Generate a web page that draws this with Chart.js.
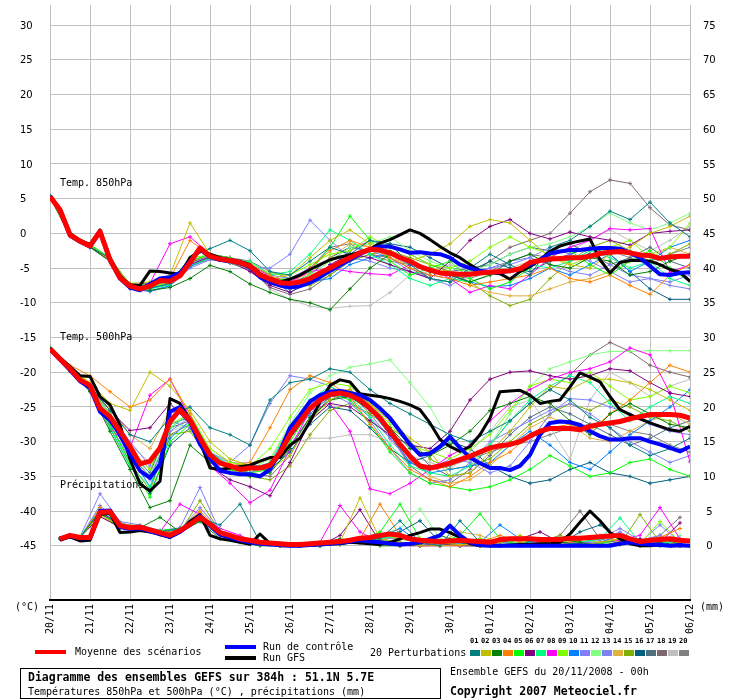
<!DOCTYPE html>
<html>
<head>
<meta charset="utf-8">
<script src="https://cdn.jsdelivr.net/npm/chart.js"></script>
<style>
  body { margin: 0; background: #fff; }
  #wrap { position: relative; width: 740px; height: 700px; font-family: "DejaVu Sans Mono", monospace; font-size: 10px; color: #000; }
  #wrap canvas { position: absolute; left: 0; top: 0; }
  .t { position: absolute; white-space: pre; line-height: 12px; }
  .b { font-weight: bold; font-size: 11.5px; }
  .bar { position: absolute; width: 31px; height: 4px; }
  .sw { position: absolute; top: 650px; width: 10px; height: 6px; }
  .num { position: absolute; top: 637px; font-size: 7px; font-weight: bold; line-height: 8px; }
  #box { position: absolute; left: 20px; top: 668px; width: 419px; height: 29px; border: 1px solid #000; }
</style>
</head>
<body>
<div id="wrap">
  <canvas id="chart" width="740" height="700"></canvas>
  <div class="t" style="left:15px;top:601px">(°C)</div>
  <div class="t" style="left:700px;top:601px">(mm)</div>
  <div class="bar" style="left:35px;top:650px;background:#ff0000"></div>
  <div class="t" style="left:75px;top:646px">Moyenne des scénarios</div>
  <div class="bar" style="left:225px;top:645px;background:#0000ff"></div>
  <div class="bar" style="left:225px;top:656px;background:#000"></div>
  <div class="t" style="left:263px;top:641px">Run de contrôle</div>
  <div class="t" style="left:263px;top:652px">Run GFS</div>
  <div class="t" style="left:370px;top:647px">20 Perturbations</div>
  <div id="swatches"></div>
  <div id="box"></div>
  <div class="t b" style="left:28px;top:671px">Diagramme des ensembles GEFS sur 384h : 51.1N 5.7E</div>
  <div class="t" style="left:28px;top:686px">Températures 850hPa et 500hPa (°C) , précipitations (mm)</div>
  <div class="t" style="left:450px;top:666px">Ensemble GEFS du 20/11/2008 - 00h</div>
  <div class="t b" style="left:450px;top:685px">Copyright 2007 Meteociel.fr</div>
</div>
<script>
// axes
const dayLabels = ["20/11", "21/11", "22/11", "23/11", "24/11", "25/11", "26/11", "27/11", "28/11",
  "29/11", "30/11", "01/12", "02/12", "03/12", "04/12", "05/12", "06/12"];
const leftTicks = [-45, -40, -35, -30, -25, -20, -15, -10, -5, 0, 5, 10, 15, 20, 25, 30];
const rightTicks = [0, 5, 10, 15, 20, 25, 30, 35, 40, 45, 50, 55, 60, 65, 70, 75];

// echeances (heures)
const hours6 = [0, 6, 12, 18, 24, 30, 36, 42, 48, 54, 60, 66, 72, 78, 84, 90, 96, 102, 108, 114, 120,
  126, 132, 138, 144, 150, 156, 162, 168, 174, 180, 186, 192, 198, 204, 210, 216, 222, 228, 234, 240,
  246, 252, 258, 264, 270, 276, 282, 288, 294, 300, 306, 312, 318, 324, 330, 336, 342, 348, 354, 360,
  366, 372, 378, 384];
const hours12 = [0, 12, 24, 36, 48, 60, 72, 84, 96, 108, 120, 132, 144, 156, 168, 180, 192, 204, 216,
  228, 240, 252, 264, 276, 288, 300, 312, 324, 336, 348, 360, 372, 384];
const rainHours12 = [6, 18, 30, 42, 54, 66, 78, 90, 102, 114, 126, 138, 150, 162, 174, 186, 198, 210,
  222, 234, 246, 258, 270, 282, 294, 306, 318, 330, 342, 354, 366, 378];

// moyenne, controle, GFS (pas de 6h)
const mean850 = [5.3, 3.4, -0.2, -1.1, -1.8, 0.3, -3.8, -6.4, -7.6, -8.0, -7.6, -6.8, -6.9, -6.1, -4.2,
  -2.1, -3.3, -3.7, -3.9, -4.2, -4.7, -6.0, -6.6, -7.1, -7.2, -7.0, -6.5, -5.7, -5.0, -4.2, -3.5, -2.8,
  -2.3, -2.4, -2.8, -3.5, -4.0, -4.8, -5.3, -5.7, -5.8, -5.9, -5.9, -5.7, -5.6, -5.5, -5.4, -5.1, -4.2,
  -3.9, -3.7, -3.6, -3.5, -3.5, -3.3, -2.9, -2.7, -2.6, -2.8, -3.1, -3.2, -3.6, -3.4, -3.3, -3.3];
const ctrl850 = [5.4, 3.3, -0.3, -1.2, -1.9, 0.2, -3.9, -6.5, -7.8, -8.2, -7.3, -6.5, -6.3, -5.7, -4.0,
  -2.3, -3.4, -3.8, -4.0, -4.3, -4.9, -6.3, -7.0, -7.5, -7.8, -7.6, -7.1, -6.3, -5.4, -4.6, -3.8, -3.0,
  -2.3, -1.9, -1.9, -2.3, -2.8, -2.7, -2.9, -3.0, -3.5, -4.5, -5.0, -5.4, -5.6, -5.6, -5.4, -5.1, -4.5,
  -3.8, -2.9, -2.6, -2.4, -2.4, -2.2, -2.1, -2.1, -2.2, -2.8, -3.5, -4.7, -5.9, -6.0, -5.7, -5.6];
const gfs850 = [5.3, 3.5, 0.0, -1.0, -1.6, 0.5, -3.5, -6.2, -7.4, -7.5, -5.4, -5.5, -5.7, -5.9, -3.5,
  -2.5, -3.0, -3.5, -3.8, -4.0, -4.5, -5.8, -6.5, -7.0, -6.6, -6.0, -5.2, -4.5, -3.8, -3.4, -3.1, -2.7,
  -2.3, -1.4, -0.9, -0.2, 0.5, 0.0, -0.9, -1.9, -2.8, -3.5, -4.5, -5.4, -5.6, -5.8, -6.6, -5.5, -4.8,
  -3.8, -2.6, -1.8, -1.4, -1.1, -0.8, -3.8, -5.7, -4.2, -3.9, -3.9, -4.0, -4.5, -5.2, -5.6, -6.9];

const mean500 = [-16.6, -18.1, -19.5, -21.1, -21.9, -25.2, -26.4, -28.5, -30.7, -33.2, -32.8, -30.9,
  -27.1, -25.4, -26.9, -29.5, -31.9, -33.1, -33.5, -34.0, -33.8, -33.8, -33.4, -31.6, -29.0, -27.1,
  -25.2, -24.0, -23.2, -23.0, -23.3, -24.0, -25.2, -26.6, -28.5, -30.4, -32.1, -33.5, -33.8, -33.5,
  -33.1, -32.6, -32.1, -31.5, -30.9, -30.6, -30.4, -30.0, -29.2, -28.5, -28.1, -28.1, -28.1, -28.3,
  -27.8, -27.5, -27.3, -27.1, -26.7, -26.4, -26.1, -26.1, -26.1, -26.2, -26.6];
const ctrl500 = [-16.7, -18.2, -19.7, -21.3, -22.2, -25.7, -26.9, -29.0, -31.8, -34.2, -35.2, -33.3,
  -25.7, -25.0, -27.1, -30.4, -32.4, -34.2, -34.5, -34.7, -34.7, -35.0, -34.0, -31.4, -28.0, -26.2,
  -24.2, -23.3, -22.8, -22.7, -23.0, -23.3, -24.0, -25.2, -26.6, -28.5, -30.4, -31.9, -31.7, -30.7,
  -29.3, -30.9, -32.3, -33.1, -33.8, -33.8, -34.1, -33.5, -31.9, -29.0, -27.3, -27.1, -27.2, -27.6,
  -28.5, -29.2, -29.7, -29.7, -29.5, -29.5, -30.0, -30.4, -30.9, -31.4, -30.7];
const gfs500 = [-16.5, -17.9, -19.2, -20.5, -20.6, -23.5, -24.7, -27.6, -32.5, -36.1, -37.1, -35.7,
  -23.8, -24.5, -26.9, -30.0, -33.8, -34.0, -33.8, -33.6, -33.4, -32.8, -32.3, -32.3, -30.5, -29.5,
  -27.1, -24.3, -21.9, -21.1, -21.4, -23.1, -23.3, -23.5, -23.8, -24.2, -24.7, -25.4, -27.3, -29.7,
  -30.7, -31.4, -30.7, -29.0, -26.6, -22.8, -22.7, -22.6, -23.3, -24.5, -24.2, -24.0, -22.1, -20.1,
  -20.7, -21.4, -23.5, -25.4, -26.1, -26.7, -27.3, -27.8, -28.3, -28.5, -27.8];

// precipitations (mm / 6h, a partir de +6h)
const meanRain = [1.0, 1.5, 1.2, 1.2, 4.8, 4.9, 2.9, 2.6, 2.7, 2.3, 1.9, 1.5, 2.2, 3.1, 4.1, 3.1, 1.9,
  1.5, 1.0, 0.8, 0.5, 0.4, 0.3, 0.2, 0.2, 0.3, 0.4, 0.5, 0.6, 0.8, 1.1, 1.2, 1.5, 1.7, 1.5, 1.0, 0.8,
  0.7, 0.6, 0.7, 0.8, 0.7, 0.6, 0.5, 0.9, 1.0, 1.0, 1.0, 0.9, 0.9, 0.9, 1.1, 1.1, 1.2, 1.3, 1.4, 1.5,
  1.0, 0.6, 0.8, 0.9, 1.0, 0.8, 0.7];
const ctrlRain = [1.0, 1.4, 1.1, 1.1, 5.0, 5.1, 2.7, 2.4, 2.5, 2.1, 1.7, 1.3, 2.0, 3.0, 4.3, 2.9, 1.6,
  1.2, 0.8, 0.5, 0.3, 0.2, 0.1, 0.0, 0.0, 0.1, 0.2, 0.3, 0.4, 0.6, 0.8, 0.6, 0.5, 0.3, 0.2, 0.3, 0.5,
  1.0, 1.5, 2.9, 1.5, 0.5, 0.1, 0.0, 0.0, 0.0, 0.0, 0.0, 0.0, 0.0, 0.0, 0.0, 0.0, 0.0, 0.0, 0.0, 0.3,
  0.5, 0.3, 0.2, 0.1, 0.0, 0.1, 0.0];
const gfsRain = [0.8, 1.3, 0.7, 0.8, 4.5, 4.7, 1.9, 2.0, 2.2, 2.0, 1.6, 1.2, 2.0, 3.5, 4.5, 1.5, 1.0,
  0.8, 0.5, 0.2, 1.7, 0.3, 0.0, 0.0, 0.0, 0.1, 0.2, 0.3, 0.3, 0.5, 0.4, 0.3, 0.2, 0.5, 1.0, 1.5, 1.9,
  2.4, 2.4, 1.9, 1.2, 0.3, 0.0, 0.0, 0.0, 0.1, 0.2, 0.2, 0.3, 0.3, 0.5, 1.7, 3.4, 5.0, 3.6, 1.9, 1.0,
  0.3, 0.0, 0.0, 0.1, 0.0, 0.0, 0.0];

// 20 perturbations
const pertColors = ["#008080", "#c0c000", "#008000", "#ff8000", "#00ff00", "#800080", "#00ff80",
  "#ff00ff", "#80ff00", "#0080ff", "#8080ff", "#80ff80", "#8080f0", "#e0b040", "#80b000", "#006080",
  "#507080", "#806870", "#c0c0c0", "#808080"];

const pert850 = [
  [5.4, -0.1, -1.9, -3.6, -7.8, -7.9, -7.2, -3.5, -2.2, -1.0, -2.5, -5.5, -6.0, -4.0, -2.0, -3.0, -1.0, -1.5, -4.5, -6.5, -7.0, -5.0, -3.0, -4.5, -6.0, -2.0, -1.0, 1.0, 3.2, 2.0, 4.5, 1.5, -0.5],
  [5.3, -0.3, -1.7, -3.9, -7.2, -7.0, -6.0, 1.5, -3.0, -4.2, -5.0, -6.5, -6.0, -3.5, -1.0, 0.5, -1.5, -3.0, -4.0, -3.0, -1.5, 1.0, 2.0, 1.5, -1.0, -3.5, -4.5, -5.0, -3.0, -2.0, 0.0, 1.0, 2.5],
  [5.2, -0.4, -2.0, -4.0, -7.9, -8.2, -7.8, -6.5, -4.6, -5.5, -7.3, -8.5, -9.5, -10.0, -11.0, -8.0, -5.0, -3.0, -4.0, -5.5, -6.0, -7.0, -6.0, -4.0, -3.0, -4.5, -5.0, -3.5, -4.0, -6.0, -5.5, -4.0, -3.0],
  [5.3, -0.2, -1.8, -3.7, -7.5, -7.8, -6.5, -1.0, -3.2, -3.8, -4.5, -6.0, -7.5, -5.0, -2.5, -1.0, -2.0, -3.5, -5.0, -6.0, -6.5, -7.5, -7.0, -6.5, -6.0, -5.0, -6.5, -7.0, -6.0, -7.5, -8.8, -6.0, -4.5],
  [5.4, 0.0, -1.6, -3.5, -7.4, -7.3, -7.0, -4.0, -3.0, -3.5, -5.0, -6.8, -6.5, -5.5, -2.0, 2.5, -1.0, -4.0, -6.0, -5.0, -4.0, -6.5, -8.0, -7.0, -5.0, -3.0, -2.5, -4.5, -6.0, -4.0, -2.5, -5.0, -7.0],
  [5.3, -0.3, -1.9, -3.9, -7.7, -7.5, -6.8, -4.5, -3.4, -4.0, -5.5, -7.5, -8.5, -7.0, -4.5, -3.0, -3.5, -4.5, -5.5, -6.5, -4.0, -1.0, 1.0, 2.0, 0.0, -0.8, 0.2, -0.5, -1.0, -1.7, 0.0, 0.3, 0.5],
  [5.2, -0.1, -1.7, -3.6, -7.6, -8.0, -7.4, -4.6, -3.6, -4.2, -4.0, -6.0, -5.5, -3.0, 0.5, -1.0, -3.0, -4.5, -6.5, -7.5, -6.5, -7.0, -6.0, -5.5, -4.5, -5.0, -4.0, -2.5, -3.5, -5.0, -4.0, -6.5, -7.5],
  [5.4, -0.2, -1.8, -3.8, -7.4, -7.2, -1.5, -0.5, -3.0, -3.5, -4.5, -6.2, -7.0, -5.5, -5.0, -5.5, -5.8, -6.0, -4.5, -5.0, -6.5, -8.5, -7.5, -8.0, -6.0, -3.5, -2.0, -1.0, 0.7, 0.5, 0.7, -5.6, -4.5],
  [5.3, -0.3, -1.9, -3.8, -7.7, -7.6, -7.1, -3.5, -3.1, -3.7, -4.2, -5.8, -6.0, -4.5, -3.0, -2.5, -0.5, -2.0, -3.0, -4.5, -5.0, -4.0, -2.0, -0.5, -2.0, -3.0, -4.5, -3.5, -2.0, -1.0, -3.5, -2.0, 1.5],
  [5.3, -0.2, -1.8, -3.9, -7.8, -8.3, -7.5, -4.8, -3.5, -4.0, -4.8, -6.5, -8.5, -7.0, -6.5, -4.5, -3.5, -3.0, -4.5, -5.5, -6.0, -7.0, -7.7, -7.5, -6.5, -5.0, -6.0, -4.5, -3.0, -5.5, -4.0, -2.0, -1.0],
  [5.4, -0.1, -1.7, -3.7, -7.3, -7.5, -7.0, -4.5, -3.2, -3.6, -4.8, -5.0, -3.0, 1.9, -1.0, -3.5, -4.0, -5.0, -5.5, -6.5, -7.5, -6.0, -5.0, -4.5, -3.5, -2.0, -3.0, -4.0, -5.5, -7.0, -6.5, -7.0, -6.0],
  [5.3, -0.2, -1.8, -3.8, -7.6, -7.7, -7.2, -4.4, -3.3, -3.9, -5.0, -6.8, -7.4, -6.0, -4.0, -2.0, -1.5, -0.5, -2.5, -4.0, -5.0, -5.5, -4.5, -3.0, -2.0, -1.5, -0.5, 1.0, 2.9, 1.5, 0.5, 1.5, 2.9],
  [5.2, -0.3, -2.0, -4.0, -8.0, -8.4, -7.6, -5.0, -3.8, -4.2, -4.5, -6.0, -6.5, -5.0, -4.0, -2.0, -2.5, -3.5, -5.5, -6.0, -6.5, -5.5, -5.0, -4.0, -3.5, -4.5, -5.5, -6.0, -4.5, -6.0, -6.5, -7.5, -8.0],
  [5.3, -0.2, -1.9, -3.7, -7.5, -7.4, -6.8, -4.0, -3.2, -3.6, -4.4, -6.2, -6.8, -5.8, -3.5, -1.5, -2.0, -3.5, -4.5, -5.0, -5.5, -7.5, -8.5, -9.0, -9.0, -8.0, -7.0, -6.5, -5.5, -4.0, -3.0, -2.0, -3.0],
  [5.4, -0.1, -1.8, -3.8, -7.6, -7.5, -6.9, -4.3, -3.4, -4.0, -4.9, -7.0, -7.8, -7.5, -6.0, -4.0, -3.0, -2.5, -3.5, -4.5, -5.5, -7.0, -9.0, -10.4, -9.5, -6.5, -4.0, -2.0, -1.0, -2.5, -4.0, -3.0, -1.5],
  [5.3, -0.3, -1.9, -3.9, -7.7, -7.9, -7.3, -4.2, -3.3, -3.9, -4.6, -6.6, -7.2, -6.0, -3.5, -2.0, -2.5, -1.5, -2.0, -3.5, -5.0, -5.5, -4.0, -5.0, -5.5, -4.0, -3.0, -2.0, -3.0, -5.5, -8.0, -9.5, -9.5],
  [5.2, -0.2, -1.8, -3.9, -7.9, -7.8, -7.1, -4.7, -3.7, -4.3, -5.3, -7.3, -8.0, -7.0, -5.0, -2.5, -1.0, -2.0, -3.0, -4.5, -5.5, -5.0, -4.5, -3.0, -2.0, -2.5, -1.5, -3.0, -4.5, -3.5, -2.0, -4.0, -5.0],
  [5.3, -0.3, -1.7, -3.6, -7.5, -7.2, -7.0, -3.8, -3.5, -3.8, -5.2, -7.8, -8.8, -8.0, -6.0, -4.0, -3.0, -3.5, -5.0, -6.5, -7.0, -6.0, -4.0, -2.0, -1.0, 0.0, 2.9, 6.0, 7.7, 7.2, 3.7, 1.2, 0.5],
  [5.4, -0.2, -1.9, -3.8, -7.6, -7.6, -6.7, -4.1, -3.0, -3.8, -5.0, -8.0, -9.5, -10.5, -10.8, -10.5, -10.4, -8.5, -6.0, -5.5, -4.5, -5.5, -6.0, -5.0, -4.0, -3.0, -2.5, -1.0, 0.5, -1.0, -2.5, -1.0, 1.0],
  [5.3, -0.2, -1.8, -3.7, -7.4, -7.3, -6.6, -4.0, -3.0, -3.5, -4.0, -5.5, -6.5, -5.0, -2.0, -1.5, -3.0, -4.0, -4.5, -5.0, -6.0, -6.5, -5.5, -4.0, -3.0, -3.5, -4.0, -3.0, -2.5, -3.5, -4.5, -3.0, -2.0]
];

const pert500 = [
  [-16.5, -19.4, -22.0, -25.5, -29.0, -30.0, -26.5, -25.0, -28.0, -29.0, -30.5, -24.0, -21.5, -21.0, -19.5, -20.0, -22.5, -24.5, -26.0, -27.5, -29.0, -30.0, -28.5, -27.0, -24.5, -22.5, -24.0, -26.5, -28.0, -30.5, -32.0, -31.0, -29.5],
  [-16.7, -19.3, -21.5, -24.5, -25.5, -20.0, -22.0, -25.5, -30.0, -32.5, -33.5, -34.0, -32.0, -27.0, -24.0, -22.5, -24.5, -27.0, -29.5, -31.5, -35.0, -34.5, -31.5, -28.5, -25.0, -22.0, -22.5, -21.0, -21.0, -21.5, -22.5, -24.0, -25.5],
  [-16.6, -19.8, -22.8, -28.5, -34.0, -39.5, -38.5, -30.5, -33.0, -34.5, -35.0, -34.5, -31.0, -26.5, -24.0, -23.5, -25.5, -28.0, -31.0, -32.0, -30.5, -28.5, -25.5, -24.5, -23.5, -24.5, -27.0, -29.0, -26.0, -24.5, -26.0, -27.5, -28.0],
  [-16.5, -19.0, -20.5, -22.8, -25.0, -24.0, -21.0, -26.0, -32.0, -33.5, -33.0, -28.0, -22.5, -20.5, -21.5, -23.5, -27.5, -31.0, -34.0, -35.5, -36.5, -35.0, -33.0, -31.5, -29.0, -28.0, -27.5, -28.5, -26.0, -24.0, -21.5, -19.0, -20.0],
  [-16.6, -19.7, -22.4, -27.5, -33.0, -38.0, -30.0, -27.5, -32.5, -34.0, -34.5, -34.0, -30.0, -25.5, -23.0, -24.0, -27.5, -31.5, -34.5, -36.0, -36.5, -37.0, -36.5, -35.5, -34.0, -32.0, -33.5, -35.0, -34.5, -33.0, -32.5, -34.0, -35.0],
  [-16.7, -19.6, -22.1, -25.5, -28.4, -28.0, -24.5, -27.5, -33.5, -35.5, -36.5, -37.8, -33.0, -27.0, -24.5, -25.0, -27.0, -29.0, -30.5, -31.0, -28.5, -24.0, -21.0, -20.0, -19.8, -20.5, -21.0, -20.5, -19.5, -19.8, -21.5, -23.0, -23.5],
  [-16.5, -19.5, -22.3, -28.0, -33.5, -36.5, -28.0, -26.0, -31.5, -33.5, -34.0, -33.0, -28.0, -24.0, -22.0, -23.5, -26.5, -30.5, -33.5, -34.5, -35.0, -33.5, -30.5, -27.0, -24.0, -22.0, -20.5, -21.5, -24.5, -27.0, -25.0, -23.5, -24.5],
  [-16.6, -19.8, -22.5, -28.0, -30.9, -23.3, -21.0, -26.5, -33.5, -36.0, -38.8, -37.0, -31.0, -25.5, -24.5, -28.5, -36.8, -37.5, -36.0, -34.0, -32.0, -30.5, -27.0, -24.5, -22.5, -21.0, -20.0, -19.5, -18.5, -16.5, -17.5, -23.0, -32.9],
  [-16.5, -19.4, -21.8, -26.0, -31.0, -34.0, -27.5, -26.0, -31.0, -33.0, -33.5, -31.0, -26.5, -22.5, -21.5, -22.0, -24.5, -27.5, -30.5, -31.5, -32.5, -31.0, -29.0, -25.5, -22.0, -21.0, -21.5, -20.0, -22.0, -24.0, -23.5, -22.0, -23.0],
  [-16.6, -19.6, -22.2, -27.0, -32.0, -36.5, -29.5, -27.0, -32.0, -33.5, -33.5, -33.5, -29.5, -26.0, -23.5, -23.5, -25.5, -29.0, -33.0, -34.5, -34.0, -33.5, -33.0, -30.5, -28.5, -30.5, -33.0, -34.0, -31.5, -29.0, -27.0, -25.0, -22.5],
  [-16.7, -19.7, -22.6, -27.5, -32.5, -35.5, -28.5, -26.5, -31.5, -33.0, -30.5, -24.5, -20.5, -21.0, -22.0, -24.0, -26.5, -29.5, -33.0, -34.0, -32.5, -33.0, -34.5, -33.5, -30.0, -26.0, -23.8, -24.0, -25.0, -26.0, -27.5, -28.5, -29.0],
  [-16.5, -19.5, -22.0, -26.5, -31.5, -35.0, -28.0, -27.5, -32.5, -34.0, -34.0, -32.5, -27.5, -23.0, -20.5, -19.3, -18.8, -18.2, -21.5, -25.0, -30.0, -33.0, -30.5, -26.0, -22.0, -19.5, -18.5, -17.5, -17.0, -17.0, -16.9, -16.9, -16.9],
  [-16.6, -19.6, -22.0, -26.0, -30.0, -33.5, -27.0, -28.0, -33.0, -34.5, -34.5, -33.0, -28.5, -24.5, -23.0, -24.5, -27.0, -31.0, -34.5, -36.0, -35.5, -33.0, -30.0, -28.5, -27.0, -25.5, -24.5, -26.0, -28.0, -30.0, -31.5, -33.0, -32.0],
  [-16.5, -19.3, -21.7, -25.0, -29.0, -31.0, -25.5, -26.5, -31.0, -33.0, -33.5, -32.5, -28.0, -24.0, -22.5, -22.5, -25.0, -28.5, -32.5, -35.0, -36.0, -35.5, -33.5, -30.5, -28.0, -26.5, -27.5, -29.5, -30.0, -28.5, -27.0, -26.0, -27.5],
  [-16.6, -19.5, -22.2, -27.5, -33.0, -37.0, -29.0, -28.5, -32.5, -34.0, -35.0, -35.5, -33.5, -29.0, -25.5, -24.5, -26.0, -28.0, -30.0, -32.5, -34.0, -33.5, -32.5, -30.0, -27.5, -26.0, -24.5, -25.5, -24.0, -25.0, -26.5, -27.0, -28.5],
  [-16.7, -19.8, -22.7, -28.0, -33.5, -37.5, -30.5, -28.0, -32.0, -33.5, -34.0, -34.0, -31.5, -27.5, -25.0, -25.5, -28.0, -31.0, -33.0, -32.0, -30.0, -31.0, -33.5, -35.0, -36.0, -35.5, -34.0, -33.0, -34.5, -35.0, -36.0, -35.5, -35.0],
  [-16.5, -19.6, -22.3, -27.0, -31.5, -34.5, -27.5, -26.5, -31.5, -33.5, -34.0, -34.0, -30.5, -26.5, -24.0, -23.0, -24.5, -27.0, -30.5, -33.5, -35.0, -34.5, -32.0, -29.0, -26.5, -25.0, -26.0, -27.5, -29.0, -30.5, -29.5, -28.0, -27.0],
  [-16.6, -19.4, -21.9, -26.5, -31.0, -34.0, -28.0, -27.0, -32.0, -33.5, -34.5, -35.0, -32.0, -27.0, -23.5, -22.5, -25.0, -29.0, -33.5, -35.5, -36.0, -34.0, -30.5, -27.0, -24.5, -22.5, -20.4, -17.5, -15.7, -17.0, -19.0, -20.0, -20.7],
  [-16.5, -19.5, -22.0, -26.0, -30.5, -33.0, -28.5, -27.5, -32.0, -33.0, -33.0, -32.5, -30.5, -29.5, -29.5, -29.0, -29.0, -30.0, -32.0, -33.0, -34.0, -31.5, -28.5, -25.0, -24.0, -28.0, -32.5, -24.0, -20.0, -21.5, -23.5, -22.0, -21.0],
  [-16.6, -19.7, -22.4, -27.0, -32.0, -35.0, -29.0, -27.5, -32.5, -34.0, -34.5, -33.5, -29.0, -25.0, -22.5, -23.0, -26.0, -29.5, -33.0, -34.0, -33.5, -32.5, -31.5, -30.5, -30.0, -29.0, -28.0, -27.5, -27.5, -28.5, -29.0, -30.5, -31.5]
];

const pertRain = [
  [1.0, 1.2, 5.0, 3.0, 2.5, 2.0, 2.5, 4.0, 3.0, 6.0, 0.5, 0.2, 0.0, 0.0, 0.3, 0.8, 1.0, 3.6, 0.5, 0.0, 3.6, 0.5, 0.0, 0.2, 1.0, 0.5, 0.2, 0.0, 0.5, 0.0, 0.3, 0.0],
  [1.0, 1.3, 4.5, 2.8, 2.4, 2.0, 2.0, 4.5, 1.5, 0.5, 0.2, 0.0, 0.0, 0.0, 0.5, 6.9, 1.0, 0.5, 0.0, 0.0, 0.2, 0.0, 0.5, 1.5, 0.5, 0.2, 0.0, 0.5, 1.0, 0.2, 0.0, 0.5],
  [1.1, 1.2, 4.8, 2.5, 2.6, 4.1, 2.0, 3.5, 1.0, 0.5, 0.0, 0.0, 0.0, 0.3, 1.0, 0.5, 0.0, 0.0, 0.2, 1.5, 0.5, 0.0, 0.0, 0.0, 0.3, 1.0, 0.5, 0.0, 0.2, 0.5, 1.0, 0.3],
  [1.0, 1.1, 5.5, 3.2, 2.8, 1.5, 2.4, 5.0, 2.0, 0.8, 0.3, 0.0, 0.0, 0.0, 0.2, 1.0, 6.0, 1.5, 0.5, 0.0, 0.0, 0.5, 1.5, 0.5, 0.0, 0.2, 0.8, 1.5, 0.5, 0.3, 1.2, 2.5],
  [1.0, 1.2, 4.6, 2.9, 2.7, 2.2, 2.5, 3.8, 1.5, 1.0, 0.5, 0.0, 0.0, 0.5, 0.5, 0.8, 2.0, 6.0, 1.0, 0.5, 1.5, 4.6, 1.0, 0.0, 0.0, 0.5, 0.0, 0.3, 1.0, 0.0, 0.0, 0.5],
  [1.0, 1.2, 4.2, 2.7, 2.6, 1.8, 2.3, 4.2, 1.8, 0.7, 0.2, 0.0, 0.0, 0.0, 1.5, 5.2, 0.5, 0.0, 0.0, 0.3, 0.0, 0.0, 0.5, 1.0, 2.0, 0.5, 0.3, 0.0, 0.5, 1.0, 0.5, 3.3],
  [1.0, 1.3, 5.2, 3.1, 2.9, 2.1, 2.1, 4.4, 2.2, 1.2, 0.5, 0.3, 0.0, 0.0, 0.2, 0.5, 1.0, 1.5, 0.8, 0.5, 0.5, 0.3, 0.0, 0.5, 0.3, 0.0, 0.5, 1.0, 4.0, 0.5, 0.3, 0.8],
  [1.1, 1.2, 4.9, 2.8, 2.5, 2.0, 6.0, 4.5, 2.5, 1.5, 0.2, 0.0, 0.0, 0.5, 5.8, 2.0, 0.5, 0.3, 0.0, 0.0, 0.2, 0.0, 0.0, 0.3, 0.5, 0.2, 0.0, 0.5, 0.8, 1.5, 5.5, 1.0],
  [1.0, 1.2, 4.7, 3.0, 2.7, 1.9, 2.2, 4.0, 1.8, 1.0, 0.3, 0.0, 0.3, 0.0, 0.2, 0.5, 1.5, 1.0, 0.5, 0.3, 0.5, 1.0, 0.5, 0.8, 0.0, 0.5, 1.0, 0.5, 0.2, 0.3, 3.5, 0.5],
  [1.0, 1.1, 5.3, 3.3, 2.6, 1.8, 2.0, 3.6, 1.5, 0.8, 0.5, 0.0, 0.0, 0.0, 0.3, 0.5, 1.2, 2.5, 0.5, 0.0, 0.3, 0.5, 3.0, 1.0, 0.2, 0.0, 0.0, 0.5, 1.5, 0.3, 0.0, 0.5],
  [1.1, 1.3, 7.5, 3.5, 3.0, 2.2, 2.6, 8.4, 2.0, 1.0, 0.3, 0.0, 0.0, 0.2, 0.5, 0.8, 1.0, 0.5, 0.3, 0.0, 0.0, 0.2, 0.5, 0.3, 0.0, 0.5, 0.2, 0.8, 2.0, 0.5, 3.0, 0.5],
  [1.0, 1.2, 4.8, 2.9, 2.8, 2.0, 2.2, 4.0, 1.9, 0.8, 0.3, 0.0, 0.0, 0.0, 0.5, 1.0, 1.5, 2.5, 5.3, 1.0, 0.5, 0.0, 0.3, 0.5, 1.0, 0.3, 0.0, 0.5, 1.0, 0.5, 0.0, 1.5],
  [1.0, 1.2, 5.8, 3.2, 2.8, 2.0, 2.3, 5.5, 2.1, 1.0, 0.4, 0.0, 0.0, 0.0, 0.3, 0.5, 1.2, 1.0, 0.5, 0.3, 0.0, 0.0, 0.2, 1.0, 0.5, 0.0, 0.3, 1.0, 2.5, 0.8, 1.5, 0.3],
  [1.0, 1.2, 4.3, 2.6, 2.4, 1.8, 2.1, 4.8, 1.7, 0.9, 0.3, 0.0, 0.0, 0.0, 0.2, 0.6, 1.0, 1.2, 1.0, 0.5, 2.0, 1.5, 0.5, 0.0, 0.3, 0.8, 0.5, 0.0, 0.3, 0.5, 0.2, 0.0],
  [1.0, 1.2, 4.7, 2.9, 2.5, 1.9, 2.0, 6.5, 2.0, 1.0, 0.2, 0.0, 0.0, 0.3, 0.5, 1.0, 0.8, 0.5, 0.3, 0.0, 0.5, 0.5, 1.0, 0.3, 0.5, 1.5, 0.5, 0.0, 0.2, 4.5, 0.5, 1.0],
  [1.0, 1.2, 5.0, 3.0, 2.6, 2.0, 2.3, 4.2, 2.0, 1.1, 0.5, 0.0, 0.0, 0.0, 0.3, 0.8, 1.3, 2.0, 3.6, 0.5, 0.0, 0.3, 0.5, 1.0, 0.0, 0.2, 2.0, 3.0, 1.0, 0.0, 0.5, 0.0],
  [1.0, 1.3, 4.9, 2.9, 2.8, 2.1, 2.2, 4.1, 1.8, 0.9, 0.4, 0.2, 0.0, 0.0, 0.4, 0.7, 1.1, 1.3, 0.7, 0.3, 0.5, 0.5, 0.0, 0.3, 0.5, 0.8, 0.5, 0.3, 0.8, 0.3, 0.5, 0.3],
  [1.0, 1.2, 5.0, 2.8, 2.6, 2.0, 2.4, 4.3, 2.0, 1.0, 0.3, 0.0, 0.0, 0.2, 0.5, 1.0, 0.5, 0.3, 0.0, 0.0, 0.5, 1.0, 0.5, 0.2, 0.5, 1.5, 5.0, 1.0, 0.3, 0.5, 1.5, 4.1],
  [1.0, 1.2, 4.6, 2.7, 2.5, 1.9, 2.1, 3.9, 1.6, 0.9, 0.2, 0.0, 0.0, 0.0, 0.2, 0.5, 0.8, 0.5, 0.2, 0.0, 0.0, 0.0, 0.2, 0.5, 1.0, 0.5, 0.3, 0.5, 1.5, 0.5, 0.2, 0.0],
  [1.0, 1.2, 4.9, 2.9, 2.7, 2.0, 2.2, 4.1, 1.9, 1.0, 0.4, 0.0, 0.0, 0.0, 0.4, 0.8, 1.2, 1.0, 0.5, 0.3, 0.2, 0.3, 0.5, 0.5, 0.8, 0.5, 0.5, 1.0, 1.5, 0.3, 1.0, 0.5]
];

// legende des perturbations
var sw = document.getElementById("swatches");
pertColors.forEach(function (c, i) {
  var x = 470 + i * 11;
  var n = String(i + 1).padStart(2, "0");
  sw.insertAdjacentHTML("beforeend",
    '<div class="num" style="left:' + x + 'px">' + n + '</div>' +
    '<div class="sw" style="left:' + x + 'px;background:' + c + '"></div>');
});

function pts(hours, vals) {
  return vals.map(function (v, i) { return { x: hours[i], y: v }; });
}

function mainLine(vals, hours, color, width, order, axis) {
  return {
    data: pts(hours, vals), borderColor: color, backgroundColor: color, borderWidth: width,
    pointRadius: 0, order: order, yAxisID: axis, borderJoinStyle: "round"
  };
}

var datasets = [
  mainLine(mean850, hours6, "#ff0000", 5, 0, "y"),
  mainLine(mean500, hours6, "#ff0000", 5, 0, "y"),
  mainLine(meanRain, hours6.slice(1), "#ff0000", 5, 0, "y2"),
  mainLine(ctrl850, hours6, "#0000ff", 4, 1, "y"),
  mainLine(ctrl500, hours6, "#0000ff", 4, 1, "y"),
  mainLine(ctrlRain, hours6.slice(1), "#0000ff", 4, 1, "y2"),
  mainLine(gfs850, hours6, "#000000", 3, 2, "y"),
  mainLine(gfs500, hours6, "#000000", 3, 2, "y"),
  mainLine(gfsRain, hours6.slice(1), "#000000", 3, 2, "y2")
];

function pertLine(vals, hours, color, axis) {
  return {
    data: pts(hours, vals), borderColor: color, backgroundColor: color, borderWidth: 1,
    pointRadius: 2, pointStyle: "cross", pointBorderWidth: 1, pointBorderColor: color,
    order: 5, yAxisID: axis
  };
}

pertColors.forEach(function (c, i) {
  datasets.push(pertLine(pert850[i], hours12, c, "y"));
  datasets.push(pertLine(pert500[i], hours12, c, "y"));
  datasets.push(pertLine(pertRain[i], rainHours12, c, "y2"));
});

// titres des panneaux, sous les courbes
const panelTitles = {
  id: "panelTitles",
  beforeDatasetsDraw: function (chart) {
    var ctx = chart.ctx;
    ctx.save();
    ctx.font = '10px "DejaVu Sans Mono"';
    ctx.fillStyle = "#000";
    ctx.textBaseline = "middle";
    ctx.fillText("Temp. 850hPa", 60, 183);
    ctx.fillText("Temp. 500hPa", 60, 337);
    ctx.fillText("Précipitations", 60, 485);
    ctx.restore();
  }
};

new Chart(document.getElementById("chart"), {
  type: "line",
  data: { datasets: datasets },
  plugins: [panelTitles],
  options: {
    responsive: false,
    animation: false,
    devicePixelRatio: 1,
    layout: { padding: { left: 20, right: 0, top: 0, bottom: 0 } },
    plugins: { legend: { display: false }, tooltip: { enabled: false } },
    elements: { line: { tension: 0 } },
    scales: {
      x: {
        type: "linear", min: 0, max: 384,
        ticks: {
          stepSize: 24, autoSkip: false, maxRotation: 90, minRotation: 90, padding: 4,
          color: "#000", font: { family: "DejaVu Sans Mono", size: 10 },
          callback: function (v) { return dayLabels[v / 24]; }
        },
        grid: { color: "#c0c0c0", drawTicks: false },
        border: { color: "#000", width: 2 },
        afterFit: function (s) { s.height = 100; s.paddingLeft = 0; s.paddingRight = 0; }
      },
      y: {
        position: "left", min: -52.81, max: 32.9,
        afterBuildTicks: function (s) { s.ticks = leftTicks.map(function (v) { return { value: v }; }); },
        ticks: { crossAlign: "far", padding: 0, labelOffset: 1, color: "#000", font: { family: "DejaVu Sans", size: 10 } },
        grid: { color: "#c0c0c0", drawTicks: false },
        border: { display: false },
        afterFit: function (s) { s.width = 30; s.paddingTop = 0; s.paddingBottom = 0; }
      },
      y2: {
        position: "right", min: -7.81, max: 77.9,
        afterBuildTicks: function (s) { s.ticks = rightTicks.map(function (v) { return { value: v }; }); },
        ticks: { crossAlign: "center", padding: 13, labelOffset: 1, color: "#000", font: { family: "DejaVu Sans", size: 10 } },
        grid: { display: false, drawTicks: false },
        border: { display: false },
        afterFit: function (s) { s.width = 50; s.paddingTop = 0; s.paddingBottom = 0; }
      }
    }
  }
});
</script>
</body>
</html>
